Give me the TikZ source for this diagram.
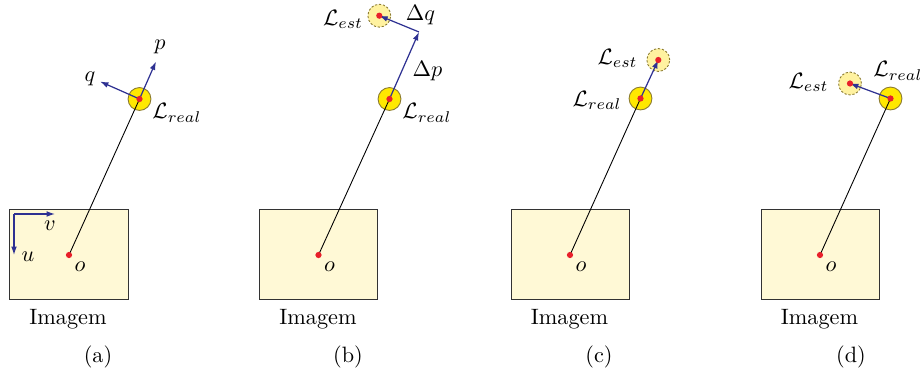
\documentclass[tikz,border=0pt]{standalone}
\usepackage{amsmath}
\usepackage{xcolor}
\usepackage{tikz}
\usetikzlibrary{arrows.meta}

\definecolor{imgfill}{HTML}{FFF9D6}
\definecolor{realfill}{HTML}{FFE800}
\definecolor{estfill}{HTML}{FFF2A0}
\definecolor{ringedge}{HTML}{8A7A30}
\definecolor{dotred}{HTML}{E8202A}
\definecolor{vecblue}{HTML}{2E3192}

\begin{document}
\begin{tikzpicture}[
  x=0.45pt, y=-0.45pt,
  font=\normalsize,
  img/.style={draw=black!80, fill=imgfill, line width=0.45pt, minimum width=53.1pt, minimum height=40.5pt, inner sep=0pt},
  real/.style={circle, draw=ringedge, fill=realfill, line width=0.4pt, minimum size=10.3pt, inner sep=0pt},
  est/.style={real, fill=estfill, dash pattern=on 1pt off 0.8pt},
  dot/.style={circle, fill=dotred, minimum size=2.8pt, inner sep=0pt},
  ray/.style={line width=0.4pt},
  vec/.style={draw=vecblue, line width=0.55pt, -{Latex[length=3.8pt,width=2.6pt]}},
  lbl/.style={inner sep=0pt}
]
\useasboundingbox (0,0) rectangle (922,378);

% (a)
\node[img] (imga) at (69,255) {};
\node[real] (Lra) at (139.5,99) {};
\coordinate (pa) at (156,61.5);
\coordinate (qa) at (100,81.5);
\coordinate (uva) at (14,214);
\coordinate (va) at (55,214);
\coordinate (ua) at (14,255);
\draw[ray] (imga.center) -- (Lra.center);
\draw[vec] (Lra.center) -- (pa);
\draw[vec] (Lra.center) -- (qa);
\draw[vec] (uva) -- (va);
\draw[vec] (uva) -- (ua);
\node[dot] (oa) at (imga.center) {};
\node[dot] at (Lra.center) {};
\node[lbl] at (160,47) {$p$};
\node[lbl] at (90,79) {$q$};
\node[lbl, anchor=west] at (152,113) {$\mathcal{L}_{real}$};
\node[lbl] at (50,226) {$v$};
\node[lbl] at (28,257) {$u$};
\node[lbl] at (80,267) {$o$};
\node (ima) at (68,319) {Imagem};
\node (capa) at (98,357) {(a)};

% (b)
\node[img] (imgb) at (318.5,255) {};
\node[real] (Lrb) at (389.5,99) {};
\node[est] (Leb) at (379.3,15.7) {};
\coordinate (cb) at (419,32);
\draw[ray] (imgb.center) -- (Lrb.center);
\draw[vec] (Lrb.center) -- (cb);
\draw[vec] (cb) -- (Leb.center);
\node[dot] (ob) at (imgb.center) {};
\node[dot] at (Lrb.center) {};
\node[dot] at (Leb.center) {};
\node[lbl] at (343,19.5) {$\mathcal{L}_{est}$};
\node[lbl] at (420.5,15) {$\Delta q$};
\node[lbl] at (427.5,71.5) {$\Delta p$};
\node[lbl, anchor=west] at (402,113) {$\mathcal{L}_{real}$};
\node[lbl] at (329.5,267) {$o$};
\node (imb) at (318,319) {Imagem};
\node (capb) at (348,357) {(b)};

% (c)
\node[img] (imgc) at (570,255) {};
\node[real] (Lrc) at (640.5,98.5) {};
\node[est] (Lec) at (658.3,60) {};
\draw[ray] (imgc.center) -- (Lrc.center);
\draw[vec] (Lrc.center) -- (Lec.center);
\node[dot] (oc) at (imgc.center) {};
\node[dot] at (Lrc.center) {};
\node[dot] at (Lec.center) {};
\node[lbl, anchor=east] at (638,58.5) {$\mathcal{L}_{est}$};
\node[lbl, anchor=east] at (622,100.5) {$\mathcal{L}_{real}$};
\node[lbl] at (581,267) {$o$};
\node (imc) at (569.5,319) {Imagem};
\node (capc) at (599,357) {(c)};

% (d)
\node[img] (imgd) at (820,255) {};
\node[real] (Lrd) at (890.5,98.5) {};
\node[est] (Led) at (850,83.5) {};
\draw[ray] (imgd.center) -- (Lrd.center);
\draw[vec] (Lrd.center) -- (Led.center);
\node[dot] (od) at (imgd.center) {};
\node[dot] at (Lrd.center) {};
\node[dot] at (Led.center) {};
\node[lbl, anchor=east] at (829,82.5) {$\mathcal{L}_{est}$};
\node[lbl, anchor=west] at (873,71) {$\mathcal{L}_{real}$};
\node[lbl] at (831,267) {$o$};
\node (imd) at (819.5,319) {Imagem};
\node (capd) at (851,357) {(d)};
\end{tikzpicture}
\end{document}
